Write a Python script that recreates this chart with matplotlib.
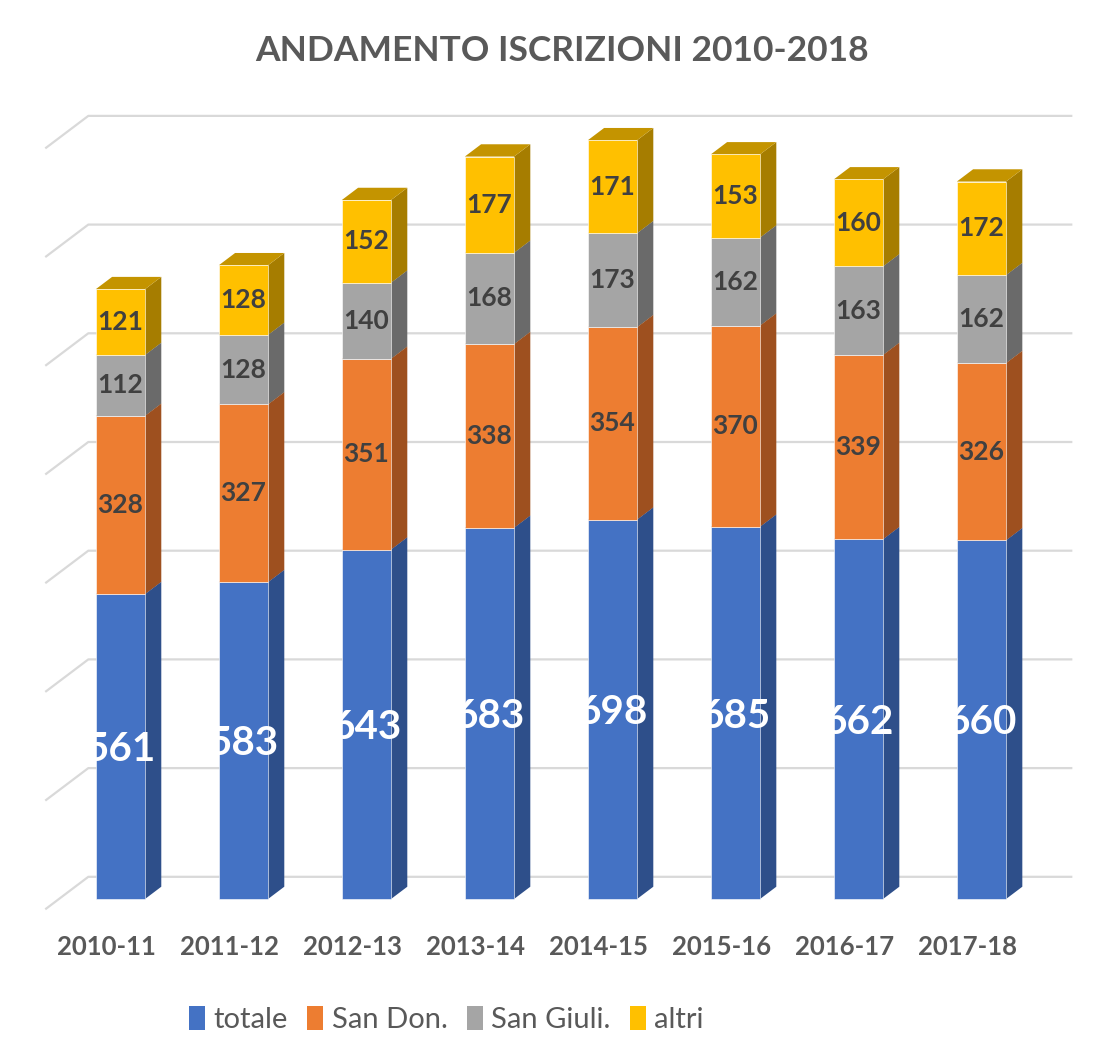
import matplotlib
matplotlib.use("Agg")
import matplotlib.pyplot as plt
from matplotlib.patches import Polygon, Patch

years = ["2010-11", "2011-12", "2012-13", "2013-14", "2014-15", "2015-16", "2016-17", "2017-18"]
totale = [561, 583, 643, 683, 698, 685, 662, 660]
san_don = [328, 327, 351, 338, 354, 370, 339, 326]
san_giuli = [112, 128, 140, 168, 173, 162, 163, 162]
altri = [121, 128, 152, 177, 171, 153, 160, 172]

series = [totale, san_don, san_giuli, altri]
names = ["totale", "San Don.", "San Giuli.", "altri"]
front_colors = ["#4472C4", "#ED7D31", "#A5A5A5", "#FFC000"]
side_colors = ["#2E4F8A", "#9E501F", "#6A6A6A", "#A67D00"]
top_colors = ["#3B63AA", "#C4661F", "#8A8A8A", "#C49400"]
label_colors = ["white", "#404040", "#404040", "#404040"]

plt.rcParams["font.family"] = ["Lato", "DejaVu Sans"]

# fake 3d: offset of the back wall (depth) in data units
DX = 0.35
DY = 59.8
Z0, Z1 = 0.317, 0.695   # front and back of the bars, as fraction of depth
W = 0.4

fig = plt.figure(figsize=(10.94, 10.59), dpi=100)
ax = fig.add_axes([0, 0, 1, 1])
ax.set_xlim(-0.868, 8.026)
ax.set_ylim(-275.4, 1673)
ax.axis("off")

# gridlines on the side and back walls
for v in range(0, 1401, 200):
    ax.plot([-0.5, -0.5 + DX, 7.5 + DX], [v, v + DY, v + DY],
            color="#D9D9D9", lw=1.6, zorder=1, solid_capstyle="butt")

n = len(years)
xs = [i + Z0 * DX for i in range(n)]
bottom = [0] * n
ddx = (Z1 - Z0) * DX
ddy = (Z1 - Z0) * DY

for k, s in enumerate(series):
    bots = [b + Z0 * DY for b in bottom]
    ax.bar(xs, s, width=W, bottom=bots, color=front_colors[k], zorder=3,
           edgecolor="#FFFFFF", linewidth=0.4)
    for i in range(n):
        xr = xs[i] + W / 2
        xl = xs[i] - W / 2
        y0 = bots[i]
        y1 = bots[i] + s[i]
        side = Polygon([(xr, y0), (xr + ddx, y0 + ddy), (xr + ddx, y1 + ddy), (xr, y1)],
                       closed=True, facecolor=side_colors[k], edgecolor="none", zorder=2)
        top = Polygon([(xl, y1), (xr, y1), (xr + ddx, y1 + ddy), (xl + ddx, y1 + ddy)],
                      closed=True, facecolor=top_colors[k], edgecolor="none", zorder=2)
        ax.add_patch(side)
        ax.add_patch(top)
        if k == 0:
            ax.text(xs[i], y0 + s[i] / 2 - 6, str(s[i]), ha="center", va="center",
                    fontsize=29, fontweight="bold", color=label_colors[k], zorder=5)
        else:
            ax.text(xs[i], y0 + s[i] / 2, str(s[i]), ha="center", va="center",
                    fontsize=19, fontweight="bold", color=label_colors[k], zorder=5)
    bottom = [b + v for b, v in zip(bottom, s)]

# category labels
for i, y in enumerate(years):
    ax.text(i, -70, y, ha="center", va="center", fontsize=18.5,
            fontweight="bold", color="#595959")

fig.text(0.514, 1 - 51 / 1059, "ANDAMENTO ISCRIZIONI 2010-2018", ha="center", va="center",
         fontsize=25.5, fontweight="bold", color="#595959")

handles = [Patch(facecolor=c, edgecolor="none") for c in front_colors]
ax.legend(handles, names, loc="center", bbox_to_anchor=(0.408, 0.037),
          bbox_transform=fig.transFigure, ncol=4, frameon=False, fontsize=21,
          handlelength=0.55, handleheight=0.85, handletextpad=0.3,
          columnspacing=0.65, labelcolor="#595959")

fig.savefig("out.png", dpi=100)
